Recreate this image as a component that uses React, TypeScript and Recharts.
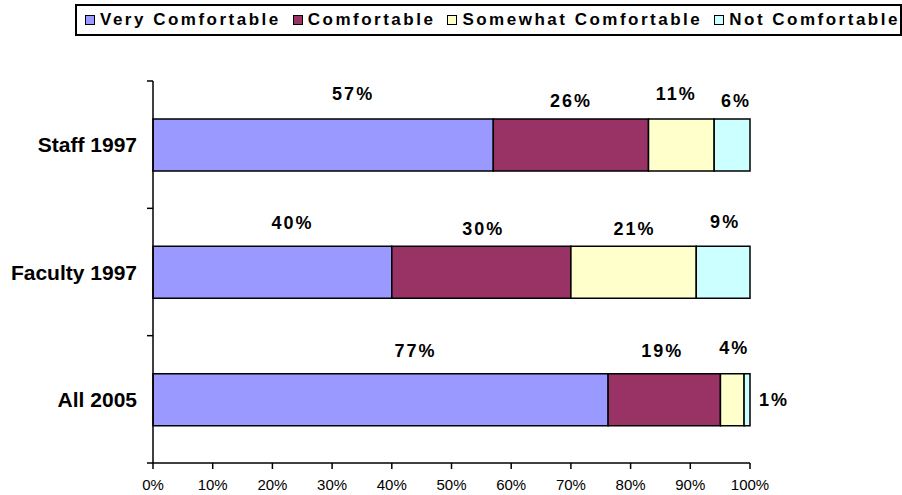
import { BarChart, Bar, XAxis, YAxis, LabelList } from "recharts";

const GROUPS = ["Staff 1997", "Faculty 1997", "All 2005"];
const VERY = [57, 40, 77];
const COMFORTABLE = [26, 30, 19];
const SOMEWHAT = [11, 21, 4];
const NOT_COMFORTABLE = [6, 9, 1];
const PCT_TICKS = [0, 0.1, 0.2, 0.3, 0.4, 0.5, 0.6, 0.7, 0.8, 0.9, 1];

const SERIES = [
  { key: "very", name: "Very Comfortable", values: VERY, color: "#9999FF" },
  { key: "comf", name: "Comfortable", values: COMFORTABLE, color: "#993366" },
  { key: "somewhat", name: "Somewhat Comfortable", values: SOMEWHAT, color: "#FFFFCC" },
  { key: "not", name: "Not Comfortable", values: NOT_COMFORTABLE, color: "#CCFFFF" },
];

// hand-placed label nudges [dx from segment centre, dy of text centre from bar top]
const LABEL_NUDGE: Record<string, [number, number][]> = {
  very: [[30, -25], [20, -24], [35, -23]],
  comf: [[0, -18], [2, -18], [-2, -23]],
  somewhat: [[-5, -25], [1, -18], [2, -26]],
  not: [[4, -18], [2, -25], [27, 26]],
};

const W = 902;
const H = 495;
const MARGIN = { top: 81, right: 152, bottom: 0, left: 0 };
const Y_AXIS_W = 153;
const X_AXIS_H = 32;
const PLOT_H = H - MARGIN.top - MARGIN.bottom - X_AXIS_H;
const BAND = PLOT_H / GROUPS.length;
const FONT = "'Liberation Sans', Arial, Helvetica, sans-serif";

const rows = GROUPS.map((g, i) => {
  const row: Record<string, string | number> = { group: g };
  SERIES.forEach((s) => (row[s.key] = s.values[i]));
  return row;
});

function GroupTick({ x, y, payload, index }: any) {
  const axisX = Y_AXIS_W;
  const top = y - BAND / 2;
  return (
    <g>
      <line x1={axisX - 6} x2={axisX} y1={top} y2={top} stroke="#000" strokeWidth={1.5} />
      {index === GROUPS.length - 1 && (
        <line x1={axisX - 6} x2={axisX} y1={y + BAND / 2} y2={y + BAND / 2} stroke="#000" strokeWidth={1.5} />
      )}
      <text
        x={x}
        y={y}
        dy="0.36em"
        textAnchor="end"
        fontFamily={FONT}
        fontWeight="bold"
        fontSize={21}
        fill="#000"
      >
        {payload.value}
      </text>
    </g>
  );
}

function makeLabel(seriesKey: string, values: number[]) {
  return (props: any) => {
    const { x, y, width, index } = props;
    const [dx, dy] = LABEL_NUDGE[seriesKey][index];
    return (
      <text
        x={Number(x) + Number(width) / 2 + dx}
        y={Number(y) + dy}
        dy="0.36em"
        textAnchor="middle"
        fontFamily={FONT}
        fontWeight="bold"
        fontSize={18}
        letterSpacing={2}
        fill="#000"
      >
        {values[index]}%
      </text>
    );
  };
}

function LegendBox() {
  return (
    <div
      style={{
        position: "absolute",
        left: 75,
        top: 4,
        width: 827,
        height: 32,
        boxSizing: "border-box",
        border: "2px solid #000",
        display: "flex",
        alignItems: "center",
        paddingLeft: 8,
        fontFamily: FONT,
        fontWeight: "bold",
        fontSize: 17,
        letterSpacing: 2.5,
        color: "#000",
        whiteSpace: "nowrap",
        background: "#fff",
      }}
    >
      {SERIES.map((s) => (
        <span key={s.key} style={{ display: "flex", alignItems: "center", marginRight: 12 }}>
          <span
            style={{
              display: "inline-block",
              width: 8,
              height: 8,
              border: "1px solid #000",
              background: s.color,
              marginRight: 5,
            }}
          />
          {s.name}
        </span>
      ))}
    </div>
  );
}

export default function App() {
  return (
    <div style={{ position: "absolute", left: 0, top: 0, width: W, height: H, background: "#fff" }}>
      <LegendBox />
      <BarChart
        width={W}
        height={H}
        data={rows}
        layout="vertical"
        stackOffset="expand"
        margin={MARGIN}
      >
        <XAxis
          type="number"
          domain={[0, 1]}
          ticks={PCT_TICKS}
          tickFormatter={(v) => `${Math.round(v * 100)}%`}
          height={X_AXIS_H}
          axisLine={{ stroke: "#000", strokeWidth: 1.5 }}
          tickLine={{ stroke: "#000", strokeWidth: 1.5 }}
          tickSize={6}
          tickMargin={10}
          tick={{ fontFamily: FONT, fontSize: 15, fill: "#000" }}
          interval={0}
        />
        <YAxis
          type="category"
          dataKey="group"
          width={Y_AXIS_W}
          axisLine={{ stroke: "#000", strokeWidth: 1.5 }}
          tickLine={false}
          tickSize={6}
          tickMargin={10}
          tick={<GroupTick />}
          interval={0}
        />
        {SERIES.map((s) => (
          <Bar
            key={s.key}
            dataKey={s.key}
            name={s.name}
            stackId="a"
            fill={s.color}
            stroke="#000"
            strokeWidth={1.5}
            barSize={52}
            isAnimationActive={false}
          >
            <LabelList dataKey={s.key} content={makeLabel(s.key, s.values)} />
          </Bar>
        ))}
      </BarChart>
    </div>
  );
}
